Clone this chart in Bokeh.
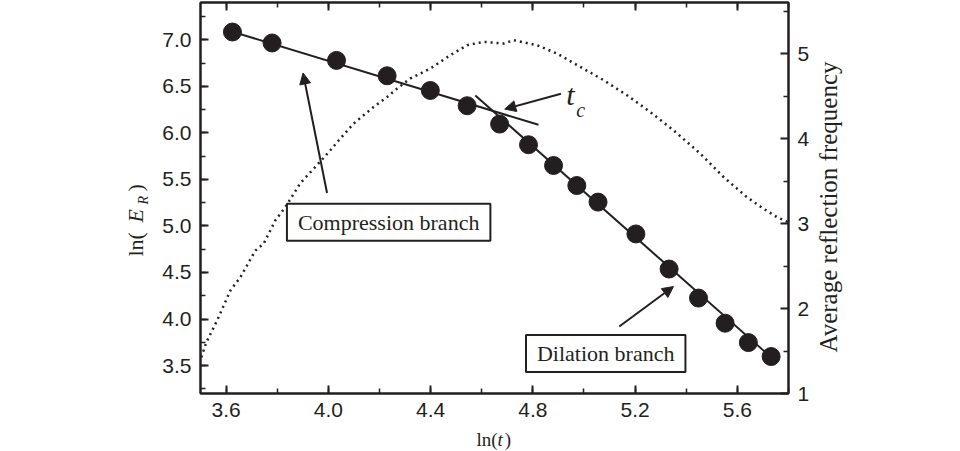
import math
from bokeh.plotting import figure
from bokeh.layouts import column, row
from bokeh.models import (Range1d, LinearAxis, FixedTicker, Label, Arrow,
                          NormalHead, PrintfTickFormatter, CustomJSTickFormatter)
from bokeh.embed import file_html
from bokeh.resources import INLINE

# ---- data ----
ln_t = [3.625, 3.780, 4.032, 4.230, 4.399, 4.543, 4.670, 4.783, 4.881,
        4.972, 5.055, 5.203, 5.333, 5.448, 5.552, 5.643, 5.732]
ln_er = [7.083, 6.965, 6.778, 6.613, 6.455, 6.291, 6.094, 5.872, 5.649,
         5.434, 5.256, 4.914, 4.537, 4.225, 3.955, 3.747, 3.597]

comp_fit_x = [3.62, 4.822]
comp_fit_y = [7.09, 6.087]
dil_fit_x = [4.575, 5.752]
dil_fit_y = [6.401, 3.540]

freq_x = [3.503, 3.523, 3.565, 3.617, 3.656, 3.715, 3.747, 3.793, 3.832,
          3.891, 3.969, 4.002, 4.041, 4.099, 4.177, 4.230, 4.269, 4.321,
          4.399, 4.477, 4.543, 4.608, 4.686, 4.725, 4.816, 4.894, 4.986,
          5.077, 5.168, 5.259, 5.350, 5.455, 5.546, 5.637, 5.702, 5.755, 5.800]
freq_y = [1.426, 1.603, 1.859, 2.212, 2.369, 2.683, 2.762, 3.037, 3.193,
          3.476, 3.731, 3.841, 3.979, 4.176, 4.371, 4.489, 4.588, 4.706,
          4.823, 4.980, 5.098, 5.137, 5.118, 5.157, 5.098, 5.000, 4.842,
          4.686, 4.509, 4.312, 4.097, 3.822, 3.547, 3.311, 3.174, 3.075, 3.013]

x_ticks = [3.6, 4.0, 4.4, 4.8, 5.2, 5.6]
x_minor = [3.6, 3.8, 4.0, 4.2, 4.4, 4.6, 4.8, 5.0, 5.2, 5.4, 5.6, 5.8]
y_ticks = [3.5, 4.0, 4.5, 5.0, 5.5, 6.0, 6.5, 7.0]
y_minor = [3.25, 3.5, 3.75, 4.0, 4.25, 4.5, 4.75, 5.0, 5.25, 5.5, 5.75,
           6.0, 6.25, 6.5, 6.75, 7.0, 7.25]
r_ticks = [1, 2, 3, 4, 5]
r_minor = [1.5, 2.5, 3.5, 4.5, 5.5]

INK = "#231f20"
SERIF = "Liberation Serif"
SANS = "Liberation Sans"

X_RANGE = Range1d(3.5, 5.8)
FRAME_H = 391
B_BOT = 35
MAIN_H = 2 + FRAME_H + B_BOT      # 428
BOT_H = 451 - MAIN_H              # 23

p = figure(width=654, height=MAIN_H,
           x_range=X_RANGE, y_range=Range1d(3.2, 7.4),
           output_backend="svg", toolbar_location=None,
           min_border_left=42, min_border_right=23,
           min_border_top=2, min_border_bottom=B_BOT)
p.xgrid.visible = False
p.ygrid.visible = False
p.background_fill_color = "white"
p.border_fill_color = "white"
p.outline_line_color = INK
p.outline_line_width = 2
p.extra_y_ranges = {"freq": Range1d(1.0, 5.6)}


def style(ax, ticks, minor, standoff=9):
    ax.ticker = FixedTicker(ticks=ticks, minor_ticks=minor)
    ax.axis_line_color = INK
    ax.axis_line_width = 2
    ax.major_tick_in = 8
    ax.major_tick_out = 0
    ax.minor_tick_in = 5
    ax.minor_tick_out = 0
    ax.major_tick_line_color = INK
    ax.major_tick_line_width = 2
    ax.minor_tick_line_color = INK
    ax.minor_tick_line_width = 1.5
    ax.major_label_text_font = SANS
    ax.major_label_text_font_size = "21px"
    ax.major_label_text_color = INK
    ax.major_label_standoff = standoff


style(p.xaxis[0], x_ticks, x_minor, 9)
p.xaxis[0].formatter = PrintfTickFormatter(format="%.1f")
p.xaxis[0].major_label_text_line_height = 1.0
style(p.yaxis[0], y_ticks, y_minor, 9)
p.yaxis[0].formatter = PrintfTickFormatter(format="%.1f")

top = LinearAxis()
style(top, x_ticks, x_minor, 0)
top.formatter = CustomJSTickFormatter(code="return ''")
p.add_layout(top, "above")

right = LinearAxis(y_range_name="freq")
style(right, r_ticks, r_minor, 9)
right.formatter = PrintfTickFormatter(format="%d")
p.add_layout(right, "right")

# ---- marks ----
p.line(freq_x, freq_y, y_range_name="freq", line_color=INK, line_width=2.5,
       line_dash="2 4")
p.line(comp_fit_x, comp_fit_y, line_color=INK, line_width=2)
p.line(dil_fit_x, dil_fit_y, line_color=INK, line_width=2)
p.scatter(ln_t, ln_er, size=18, fill_color=INK, line_color=INK)

# ---- annotations inside the plot ----
for xs, ys, xe, ye in [(3.995, 5.353, 3.901, 6.642),
                       (5.138, 3.919, 5.350, 4.349),
                       (4.910, 6.420, 4.690, 6.255)]:
    p.add_layout(Arrow(x_start=xs, y_start=ys, x_end=xe, y_end=ye,
                       line_color=INK, line_width=2,
                       end=NormalHead(size=11, fill_color=INK, line_color=INK,
                                      line_width=1)))

pad = dict(left=11, right=11, top=6, bottom=6)
p.add_layout(Label(x=4.236, y=5.039, text="Compression branch",
                   text_font=SERIF, text_font_size="22px", text_color=INK,
                   text_align="center", text_baseline="middle",
                   border_line_color=INK, border_line_width=2,
                   background_fill_color="white", padding=pad))
p.add_layout(Label(x=5.085, y=3.629, text="Dilation branch",
                   text_font=SERIF, text_font_size="22px", text_color=INK,
                   text_align="center", text_baseline="middle",
                   border_line_color=INK, border_line_width=2,
                   background_fill_color="white", padding=pad))

p.add_layout(Label(x=4.931, y=6.410, text="t", text_font=SERIF,
                   text_font_style="italic", text_font_size="30px",
                   text_color=INK, text_baseline="middle"))
p.add_layout(Label(x=4.970, y=6.245, text="c", text_font=SERIF,
                   text_font_style="italic", text_font_size="20px",
                   text_color=INK, text_baseline="middle"))


def text_panel(w, h, **kw):
    args = dict(width=w, height=h, output_backend="svg", toolbar_location=None,
                x_axis_location=None, y_axis_location=None,
                min_border_left=0, min_border_right=0,
                min_border_top=0, min_border_bottom=0)
    args.update(kw)
    f = figure(**args)
    f.xgrid.visible = False
    f.ygrid.visible = False
    f.outline_line_color = None
    f.background_fill_color = "white"
    f.border_fill_color = "white"
    return f


# side panels: frame is page y 2..393, y data = 393 - page y
left = text_panel(158, MAIN_H, x_range=Range1d(0, 158),
                  y_range=Range1d(0, FRAME_H),
                  min_border_top=2, min_border_bottom=B_BOT)
for tx, py, txt, st, sz in [(134.6, 256, "ln(", "normal", "22px"),
                            (134.6, 222, "E", "italic", "22px"),
                            (143.3, 204, "R", "italic", "14px"),
                            (134.6, 191, ")", "normal", "22px")]:
    left.add_layout(Label(x=tx, y=393 - py, text=txt, text_font=SERIF,
                          text_font_style=st, text_font_size=sz,
                          text_color=INK, text_baseline="middle",
                          text_align="left", angle=math.pi / 2))

rightp = text_panel(146, MAIN_H, x_range=Range1d(0, 146),
                    y_range=Range1d(0, FRAME_H),
                    min_border_top=2, min_border_bottom=B_BOT)
rightp.add_layout(Label(x=15.6, y=393 - 352, text="Average reflection frequency",
                        text_font=SERIF, text_font_size="25px", text_color=INK,
                        text_align="left", text_baseline="middle",
                        angle=math.pi / 2))

# bottom panel: the ln(t) title (frame spans the whole panel)
bottom = text_panel(958, BOT_H, x_range=X_RANGE, y_range=Range1d(0, BOT_H),
                    min_border_left=200, min_border_right=169)
for tx, txt, st in [(4.578, "ln(", "normal"), (4.660, "t", "italic"),
                    (4.688, ")", "normal")]:
    bottom.add_layout(Label(x=tx, y=451 - 438.6, text=txt, text_font=SERIF,
                            text_font_style=st, text_font_size="19px",
                            text_color=INK, text_baseline="middle"))

layout = column(row(left, p, rightp, spacing=0), bottom, spacing=0)
open("out.html", "w").write(file_html(layout, INLINE))
